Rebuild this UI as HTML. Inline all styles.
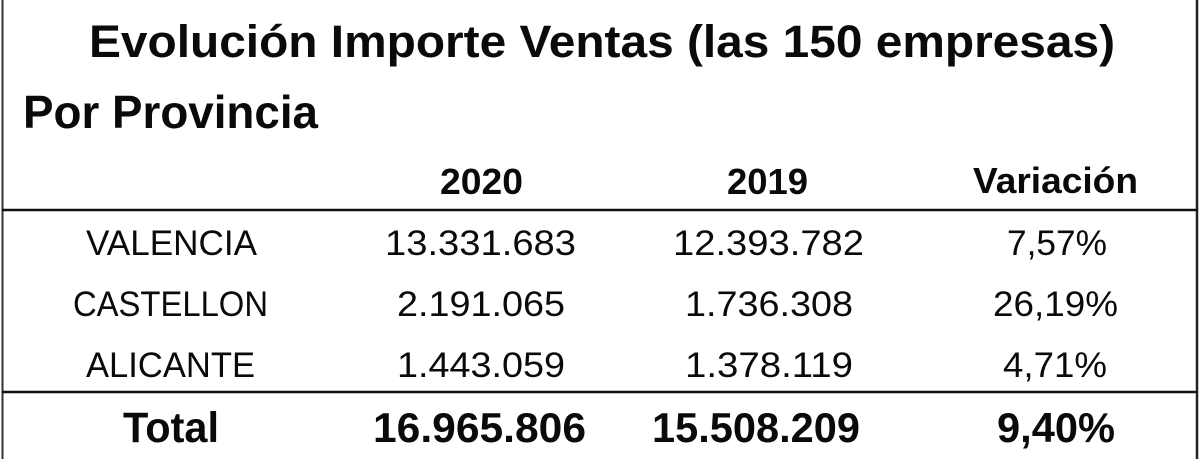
<!DOCTYPE html>
<html>
<head>
<meta charset="utf-8">
<style>
  html,body{margin:0;padding:0;background:#fff;}
  body{width:1200px;height:459px;overflow:hidden;}
  svg{display:block;}
  text{font-family:"Liberation Sans",Arial,sans-serif;fill:#0a0a0a;}
  .b{font-weight:bold;}
</style>
</head>
<body>
<svg width="1200" height="459" viewBox="0 0 1200 459" xmlns="http://www.w3.org/2000/svg">
  <rect x="0" y="0" width="1200" height="459" fill="#fff"/>
  <!-- borders -->
  <line x1="2.5" y1="0" x2="2.5" y2="459" stroke="#333" stroke-width="2"/>
  <line x1="1197" y1="0" x2="1197" y2="459" stroke="#222" stroke-width="2.5"/>
  <line x1="2" y1="210" x2="1198" y2="210" stroke="#111" stroke-width="2.5"/>
  <line x1="2" y1="392" x2="1198" y2="392" stroke="#111" stroke-width="2.5"/>

  <!-- title -->
  <text class="b" x="89" y="57" font-size="45" textLength="1026" lengthAdjust="spacingAndGlyphs">Evolución Importe Ventas (las 150 empresas)</text>
  <text class="b" x="23" y="128" font-size="46" textLength="295" lengthAdjust="spacingAndGlyphs">Por Provincia</text>

  <!-- headers -->
  <text class="b" x="440" y="194" font-size="36" textLength="83" lengthAdjust="spacingAndGlyphs">2020</text>
  <text class="b" x="727" y="194" font-size="36" textLength="81" lengthAdjust="spacingAndGlyphs">2019</text>
  <text class="b" x="973" y="193" font-size="36" textLength="165" lengthAdjust="spacingAndGlyphs">Variación</text>

  <!-- row 1 -->
  <text x="86" y="255" font-size="35" textLength="171" lengthAdjust="spacingAndGlyphs">VALENCIA</text>
  <text x="385" y="255" font-size="35" textLength="191" lengthAdjust="spacingAndGlyphs">13.331.683</text>
  <text x="673" y="255" font-size="35" textLength="191" lengthAdjust="spacingAndGlyphs">12.393.782</text>
  <text x="1007" y="255" font-size="35" textLength="100" lengthAdjust="spacingAndGlyphs">7,57%</text>

  <!-- row 2 -->
  <text x="73" y="316" font-size="35" textLength="195" lengthAdjust="spacingAndGlyphs">CASTELLON</text>
  <text x="397" y="316" font-size="35" textLength="168" lengthAdjust="spacingAndGlyphs">2.191.065</text>
  <text x="685" y="316" font-size="35" textLength="168" lengthAdjust="spacingAndGlyphs">1.736.308</text>
  <text x="993" y="316" font-size="35" textLength="125" lengthAdjust="spacingAndGlyphs">26,19%</text>

  <!-- row 3 -->
  <text x="86" y="377" font-size="35" textLength="169" lengthAdjust="spacingAndGlyphs">ALICANTE</text>
  <text x="397" y="377" font-size="35" textLength="168" lengthAdjust="spacingAndGlyphs">1.443.059</text>
  <text x="685" y="377" font-size="35" textLength="168" lengthAdjust="spacingAndGlyphs">1.378.119</text>
  <text x="1003" y="377" font-size="35" textLength="104" lengthAdjust="spacingAndGlyphs">4,71%</text>

  <!-- total -->
  <text class="b" x="123" y="442" font-size="43" textLength="96" lengthAdjust="spacingAndGlyphs">Total</text>
  <text class="b" x="373" y="442" font-size="42" textLength="213" lengthAdjust="spacingAndGlyphs">16.965.806</text>
  <text class="b" x="652" y="442" font-size="42" textLength="208" lengthAdjust="spacingAndGlyphs">15.508.209</text>
  <text class="b" x="997" y="442" font-size="42" textLength="118" lengthAdjust="spacingAndGlyphs">9,40%</text>
</svg>
</body>
</html>
